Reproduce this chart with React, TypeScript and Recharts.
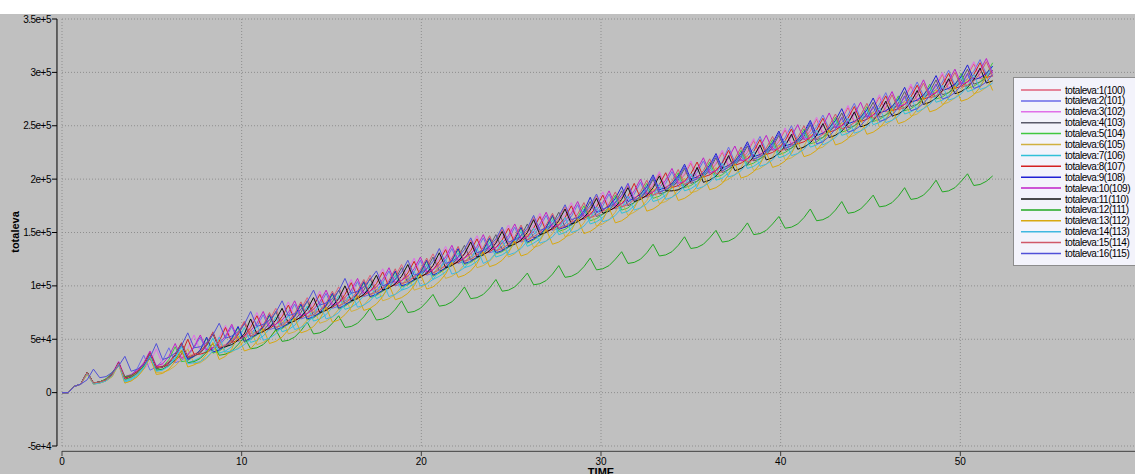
import React from 'react';
import { LineChart, Line, XAxis, YAxis, CartesianGrid, ReferenceLine } from 'recharts';

// time grid (TIME axis)
const TIME = [0,0.35,0.7,1.05,1.4,1.75,2.1,2.45,2.8,3.15,3.5,3.85,4.2,4.55,4.9,5.25,5.6,5.95,6.3,6.65,7,7.35,7.7,8.05,8.4,8.75,9.1,9.45,9.8,10.15,10.5,10.85,11.2,11.55,11.9,12.25,12.6,12.95,13.3,13.65,14,14.35,14.7,15.05,15.4,15.75,16.1,16.45,16.8,17.15,17.5,17.85,18.2,18.55,18.9,19.25,19.6,19.95,20.3,20.65,21,21.35,21.7,22.05,22.4,22.75,23.1,23.45,23.8,24.15,24.5,24.85,25.2,25.55,25.9,26.25,26.6,26.95,27.3,27.65,28,28.35,28.7,29.05,29.4,29.75,30.1,30.45,30.8,31.15,31.5,31.85,32.2,32.55,32.9,33.25,33.6,33.95,34.3,34.65,35,35.35,35.7,36.05,36.4,36.75,37.1,37.45,37.8,38.15,38.5,38.85,39.2,39.55,39.9,40.25,40.6,40.95,41.3,41.65,42,42.35,42.7,43.05,43.4,43.75,44.1,44.45,44.8,45.15,45.5,45.85,46.2,46.55,46.9,47.25,47.6,47.95,48.3,48.65,49,49.35,49.7,50.05,50.4,50.75,51.1,51.45,51.8];

// totaleva values, in thousands
const S1 = [0,0,6,8,19,9,10,12,17,28,14,16,20,27,38,24,25,29,36,47,34,36,39,46,57,43,45,49,56,67,55,57,61,68,79,65,67,71,78,89,75,77,81,88,99,86,88,92,99,110,96,98,102,109,120,106,108,112,119,130,117,118,120,124,130,143,129,131,135,142,153,139,141,145,152,164,150,152,156,163,174,160,162,166,173,184,170,172,176,183,194,181,183,187,194,205,191,193,197,204,215,201,203,207,214,225,212,214,218,225,236,222,224,228,235,246,232,234,238,245,256,242,245,249,256,267,253,255,259,266,277,263,265,269,276,287,273,276,280,287,298,284,286,290,297,308,294,296,300];
const S2 = [0,0,6,8,19,9,10,12,17,28,13,16,23,35,21,24,30,42,28,30,35,42,52,38,40,44,51,62,48,50,55,62,73,59,61,65,72,83,69,71,75,82,93,79,81,86,93,104,90,92,96,103,114,100,102,106,113,124,110,112,117,124,135,121,123,127,134,145,131,133,137,144,155,141,143,148,155,166,152,154,158,165,176,162,164,168,175,186,172,174,178,186,197,183,185,189,196,207,193,195,199,206,217,204,208,216,230,216,218,222,229,240,226,228,232,239,250,236,238,242,249,260,247,249,253,260,271,257,259,263,270,281,267,269,273,280,291,278,280,284,291,302,288,290,294,301,312,298,300];
const S3 = [0,0,6,8,19,9,10,12,18,29,15,16,18,22,28,41,26,27,29,33,41,54,39,41,45,52,63,49,51,55,64,75,61,63,67,74,85,71,73,77,84,95,81,83,87,95,106,92,94,98,105,116,102,104,108,115,126,112,114,118,126,137,123,125,129,136,147,133,135,139,146,157,143,145,149,157,168,154,156,160,167,178,164,166,170,177,188,174,177,184,196,183,185,189,196,207,193,195,199,206,217,203,205,209,216,227,214,216,220,227,238,224,226,230,237,248,234,236,240,247,258,244,247,251,258,269,255,257,261,268,279,265,267,271,278,289,275,278,282,289,300,286,288,292,299,310,296,298,302];
const S4 = [0,0,6,8,19,9,10,12,17,28,13,15,19,26,37,23,24,28,35,46,32,34,37,44,55,41,43,47,54,65,52,54,58,65,76,62,64,68,75,86,72,74,78,85,96,83,85,89,96,107,93,95,99,106,117,103,105,109,116,127,114,116,120,127,138,124,126,130,137,148,134,136,140,147,158,145,147,151,158,169,155,157,161,168,179,165,167,171,178,189,175,178,182,189,200,186,188,192,199,210,196,198,202,209,220,206,209,213,220,231,217,219,223,230,241,227,229,233,240,251,237,239,244,251,262,248,250,254,261,272,258,260,264,271,282,268,270,275,282,293,279,281,285,292,303,289,291,295,302];
const S5 = [0,0,6,8,19,9,10,12,17,28,12,14,18,25,36,22,24,31,43,29,30,34,40,51,37,39,43,50,61,47,50,54,61,72,58,60,64,71,82,68,70,74,81,92,78,81,85,92,103,89,91,95,102,113,99,101,105,112,123,109,112,116,123,134,120,122,126,133,144,130,132,136,143,154,140,143,147,154,165,151,153,157,164,175,161,163,167,174,185,171,173,178,185,196,182,184,188,195,206,192,194,198,205,216,202,204,209,216,227,213,215,219,226,237,223,225,229,236,247,233,235,239,247,258,244,246,250,257,268,254,256,260,267,278,264,266,270,278,289,275,277,281,288,299,285,287,291,298,309];
const S6 = [0,0,6,8,18,8,9,11,16,27,9,11,15,22,33,19,19,21,25,31,41,27,28,32,39,50,36,38,42,49,59,45,47,51,58,69,55,57,61,68,79,65,67,71,78,90,76,78,82,89,100,86,88,92,99,110,96,98,102,109,121,107,109,113,120,131,117,119,123,130,141,127,130,137,149,136,138,142,149,160,146,148,152,159,170,156,158,162,169,180,166,169,173,180,191,177,179,183,190,201,187,189,193,200,211,197,200,204,211,222,208,210,214,221,232,218,220,224,231,242,228,230,235,242,253,239,241,245,252,263,249,251,255,262,273,259,261,266,273,284,270,272,276,283,294,280,282,286,293];
const S7 = [0,0,6,8,18,8,9,11,16,27,11,13,17,24,35,21,22,26,33,44,28,30,33,40,51,37,39,43,50,61,47,49,53,60,71,57,59,63,70,81,67,69,73,80,91,78,80,84,91,102,88,91,98,110,96,98,102,109,120,106,109,113,120,131,117,119,123,130,141,127,129,133,140,151,137,140,144,151,162,148,150,154,161,172,158,160,164,171,182,168,170,175,182,193,179,181,185,192,203,189,191,195,202,213,199,201,206,213,224,210,212,216,223,234,220,222,226,233,244,230,232,236,244,255,241,243,247,254,265,251,253,257,264,275,261,263,267,275,286,272,274,278,285,296,282,284,288,295,306];
const S8 = [0,0,6,8,19,9,10,12,17,28,14,16,20,27,38,24,24,26,30,36,50,36,36,38,42,48,61,47,49,53,61,72,58,60,64,71,82,68,70,74,81,92,78,80,84,92,103,89,91,95,102,113,99,101,105,112,123,109,111,115,123,134,120,122,126,133,144,130,132,136,143,154,140,142,146,154,165,151,153,157,164,175,161,163,167,174,185,171,173,177,184,196,182,184,188,195,206,192,194,198,205,216,202,204,208,215,227,213,215,219,226,237,223,225,229,236,247,233,235,239,246,257,244,246,250,257,268,254,256,260,267,278,264,266,270,277,288,275,277,281,288,299,285,287,291,298,309,295,297];
const S9 = [0,0,6,8,19,9,10,12,17,28,13,15,19,26,37,23,24,28,35,46,31,34,40,52,38,40,44,51,62,48,51,55,62,73,59,61,65,72,83,69,71,75,82,93,79,82,86,93,104,90,92,96,103,114,100,102,106,113,124,110,113,117,124,135,121,123,127,134,145,131,133,137,144,155,141,144,148,155,166,153,155,158,163,170,183,169,171,175,182,193,179,182,186,193,204,190,192,196,203,214,200,202,206,213,224,210,213,217,224,235,221,223,227,234,245,231,233,237,244,255,241,243,248,255,266,252,254,258,265,276,262,264,268,275,286,272,274,279,286,297,283,285,289,296,307,293,295,299,306];
const S10 = [0,0,6,8,19,9,10,12,18,29,15,17,21,28,39,25,27,34,46,32,36,43,54,40,42,46,53,64,50,52,58,65,76,62,64,68,75,86,72,74,78,85,96,82,84,89,96,107,93,95,99,106,117,103,105,109,116,127,113,115,120,127,138,124,126,130,137,148,134,136,140,147,158,144,146,151,158,169,155,157,161,168,179,165,167,171,178,189,175,177,181,189,200,186,188,192,199,210,196,198,202,209,220,206,208,212,220,231,217,219,223,230,241,227,229,233,240,251,237,239,243,250,262,248,250,254,261,272,258,260,264,271,282,268,270,274,281,293,279,281,285,292,303,289,291,295,302,313,299];
const S11 = [0,0,6,8,19,9,10,12,17,28,13,15,19,26,37,23,24,28,35,46,33,35,38,45,56,42,43,45,49,55,69,55,57,61,68,79,65,67,71,78,89,75,77,81,88,100,86,88,92,99,110,96,98,102,109,120,106,108,112,119,131,117,119,123,130,141,127,129,133,140,151,137,139,143,150,162,148,150,154,161,172,158,160,164,171,182,168,170,174,181,192,179,181,185,192,203,189,189,190,193,198,211,197,199,203,210,222,208,210,214,221,232,218,220,224,231,242,228,230,234,241,252,239,241,245,252,263,249,251,255,262,273,259,261,265,272,283,270,272,276,283,294,280,282,286,293,304,290,292];
const S12 = [0,0,6,8,19,9,10,13,19,26,15,16,19,25,32,21,22,25,31,39,28,29,32,38,46,35,36,39,45,52,41,42,45,51,59,48,49,52,58,66,55,56,59,65,72,61,62,65,71,79,68,69,72,78,86,75,76,79,85,92,81,82,85,91,99,88,89,92,98,106,95,96,99,105,112,101,102,105,111,119,108,109,112,118,126,115,116,119,125,132,121,122,125,131,139,128,129,132,138,146,135,136,139,145,152,141,142,145,151,159,148,149,152,158,165,154,155,158,164,172,161,162,165,171,179,168,169,172,178,185,174,175,178,184,192,181,182,185,191,199,188,189,192,198,205,194,195,198,203];
const S13 = [0,0,6,8,17,8,9,11,15,26,9,11,15,22,33,17,18,22,29,40,24,26,29,36,47,31,34,41,53,39,41,48,60,46,48,52,59,70,56,58,62,69,80,66,68,73,80,91,77,79,83,90,101,87,89,93,100,111,97,99,104,111,122,108,110,114,121,132,118,120,124,131,142,128,130,135,142,153,139,141,145,152,163,149,151,155,162,173,159,161,165,173,184,170,172,176,183,194,180,182,186,193,204,190,192,196,204,215,201,203,207,214,225,211,213,217,224,235,221,223,227,234,246,232,234,238,245,256,242,244,248,255,266,252,254,258,265,277,263,265,269,276,287,273,275,279,286,297,283];
const S14 = [0,0,6,8,18,8,9,11,16,27,10,12,16,23,34,20,21,25,32,43,27,28,29,33,39,52,38,39,41,45,50,63,49,51,55,62,73,59,61,65,72,83,69,71,75,83,94,80,82,86,93,104,90,92,96,103,114,100,102,106,114,125,111,113,117,124,135,121,124,131,143,129,131,135,142,154,140,142,146,153,164,150,152,156,163,174,160,162,166,173,184,171,173,177,184,195,181,183,187,194,205,191,193,197,204,215,202,204,208,215,226,212,214,218,225,236,222,224,228,235,246,232,235,239,246,257,243,245,249,256,267,253,255,259,266,277,263,266,270,277,288,274,276,280,287,298,284,286,290];
const S15 = [0,0,6,8,19,9,10,12,17,28,13,15,19,26,37,23,24,28,35,46,33,35,38,45,56,42,44,48,55,66,53,56,63,75,61,63,67,74,85,71,73,77,84,95,81,84,88,95,106,92,94,98,105,116,102,104,108,115,126,112,115,119,126,137,123,125,129,136,147,133,135,139,146,157,143,146,150,157,168,154,156,160,167,178,164,166,170,177,188,174,176,181,188,199,185,187,191,198,209,195,197,201,208,219,205,207,212,219,230,216,218,222,229,240,226,228,232,239,250,236,238,242,250,261,247,249,253,260,271,257,260,267,279,265,267,271,278,290,276,278,282,289,300,286,288,292,299,310,296];
const S16 = [0,0,6,8,12,22,14,15,19,25,34,20,22,26,33,46,31,33,37,44,56,42,43,47,54,65,51,53,57,64,76,62,64,68,75,86,72,74,78,85,96,82,84,88,95,107,93,95,99,106,114,100,102,106,113,124,110,112,116,123,135,121,123,127,134,145,131,133,137,144,155,141,143,147,154,166,152,154,158,165,176,162,164,168,175,186,172,174,178,185,196,180,183,190,202,188,190,194,201,212,198,200,204,211,222,208,211,215,222,233,219,221,225,232,243,229,231,235,242,253,233,235,240,247,258,244,246,250,257,268,254,256,260,267,278,264,266,271,278,289,275,277,281,288,299,285,287,291,298];

const SERIES_VALUES = [S1, S2, S3, S4, S5, S6, S7, S8, S9, S10, S11, S12, S13, S14, S15, S16];
const SERIES_NAMES = [
  'totaleva:1(100)', 'totaleva:2(101)', 'totaleva:3(102)', 'totaleva:4(103)',
  'totaleva:5(104)', 'totaleva:6(105)', 'totaleva:7(106)', 'totaleva:8(107)',
  'totaleva:9(108)', 'totaleva:10(109)', 'totaleva:11(110)', 'totaleva:12(111)',
  'totaleva:13(112)', 'totaleva:14(113)', 'totaleva:15(114)', 'totaleva:16(115)',
];
const X_TICKS = [0, 10, 20, 30, 40, 50];
const Y_TICKS = [-50000, 0, 50000, 100000, 150000, 200000, 250000, 300000, 350000];
const UNIT = 1000;

const COLORS = [
  '#e0607a', '#6a6ae8', '#e070e8', '#5a5a6a', '#40c840', '#d0b040', '#30c0d8', '#d42020',
  '#2020d4', '#c020c8', '#101010', '#22a822', '#d8a810', '#40b8e0', '#d05868', '#5050d8',
];

const rows = TIME.map((t, i) => {
  const r: Record<string, number> = { t };
  SERIES_VALUES.forEach((arr, k) => {
    r['s' + (k + 1)] = arr[i] * UNIT;
  });
  return r;
});

const FONT = '"Liberation Sans", Arial, sans-serif';
const PLOT_LEFT = 62;
const PLOT_BOTTOM = 446;

const fmtY = (v: number) => (v === 0 ? '0' : v.toExponential());

const YTick = (props: any) => {
  const { y, payload } = props;
  return (
    <g>
      <line x1={PLOT_LEFT - 10} x2={PLOT_LEFT - 5} y1={y} y2={y} stroke="#000" />
      <text x={PLOT_LEFT - 11} y={y + 3.5} textAnchor="end" fontSize={10} fontFamily={FONT} fill="#000" letterSpacing={-0.5}>
        {fmtY(payload.value)}
      </text>
    </g>
  );
};

const XTick = (props: any) => {
  const { x, payload } = props;
  return (
    <g>
      <line x1={x} x2={x} y1={PLOT_BOTTOM + 5} y2={PLOT_BOTTOM + 10} stroke="#404040" />
      <text x={x} y={PLOT_BOTTOM + 19} textAnchor="middle" fontSize={10} fontFamily={FONT} fill="#000">
        {payload.value}
      </text>
    </g>
  );
};

const LegendBox = () => (
  <div
    style={{
      position: 'absolute', left: 1013, top: 77, width: 130, height: 189,
      background: '#f3f3fb', border: '1px solid #8c8c8c', boxSizing: 'border-box',
    }}
  >
    <svg width={130} height={187} style={{ display: 'block' }}>
      {SERIES_NAMES.map((name, k) => {
        const cy = 12 + k * 10.9;
        return (
          <g key={name}>
            <line x1={7} x2={47} y1={cy} y2={cy} stroke={COLORS[k]} strokeWidth={1.5} />
            <text x={51} y={cy + 3.5} fontSize={10} fontFamily={FONT} fill="#000" letterSpacing={-0.45}>
              {name}
            </text>
          </g>
        );
      })}
    </svg>
  </div>
);

export default function App() {
  return (
    <div style={{ position: 'fixed', left: 0, top: 0, width: 1135, height: 474, overflow: 'hidden', background: '#ffffff' }}>
      <div style={{ position: 'absolute', left: 0, top: 14, width: 1135, height: 460, background: '#c0c0c0' }} />
      <div style={{ position: 'absolute', left: 0, top: 0 }}>
        <LineChart width={1140} height={474} data={rows} margin={{ top: 19, right: 0, bottom: 0, left: 0 }}>
          <CartesianGrid stroke="#8e8e8e" strokeDasharray="1 2" />
          <XAxis
            type="number"
            dataKey="t"
            domain={[0, 60]}
            ticks={X_TICKS}
            interval={0}
            height={28}
            axisLine={false}
            tickLine={false}
            tick={<XTick />}
          />
          <YAxis
            type="number"
            domain={[-50000, 350000]}
            ticks={Y_TICKS}
            interval={0}
            width={62}
            axisLine={false}
            tickLine={false}
            tick={<YTick />}
          />
          <ReferenceLine x={-0.28} ifOverflow="visible" stroke="#000" />
          <ReferenceLine y={-55000} ifOverflow="visible" stroke="#404040" />
          {SERIES_NAMES.map((name, k) => (
            <Line
              key={name}
              name={name}
              type="linear"
              dataKey={'s' + (k + 1)}
              stroke={COLORS[k]}
              strokeWidth={1}
              dot={false}
              activeDot={false}
              isAnimationActive={false}
            />
          ))}
        </LineChart>
      </div>
      <svg width={1135} height={474} style={{ position: 'absolute', left: 0, top: 0, pointerEvents: 'none' }}>
        <text transform="translate(19,232) rotate(-90)" textAnchor="middle" fontSize={11} fontWeight="bold" fontFamily={FONT} fill="#000">
          totaleva
        </text>
        <text x={601} y={476} textAnchor="middle" fontSize={11} fontWeight="bold" fontFamily={FONT} fill="#000">
          TIME
        </text>
      </svg>
      <LegendBox />
    </div>
  );
}
